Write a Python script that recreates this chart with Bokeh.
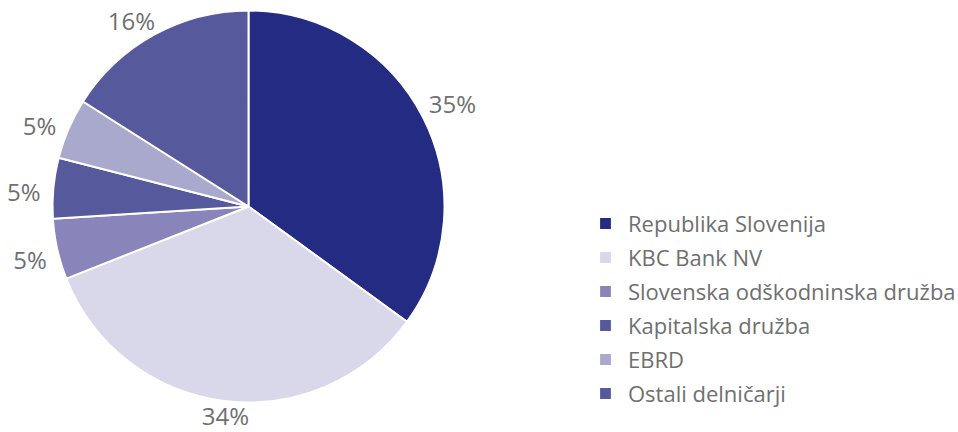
import math
from bokeh.plotting import figure
from bokeh.models import ColumnDataSource, Range1d, Legend, LegendItem
from bokeh.core.properties import value
from bokeh.embed import file_html
from bokeh.resources import INLINE

categories = ["Republika Slovenija", "KBC Bank NV", "Slovenska odškodninska družba",
              "Kapitalska družba", "EBRD", "Ostali delničarji"]
shares = [35, 34, 5, 5, 5, 16]
colors = ["#232C82", "#D9D7EA", "#8985BA", "#57599D", "#A9A8CD", "#57599D"]
labels = ["35%", "34%", "5%", "5%", "5%", "16%"]

R = 196
GAP = 12
FS = 24
ROT = math.radians(1.5)
Y0, Y1 = -226, 206
total = sum(shares)
starts, ends, lx, ly = [], [], [], []
cum = 0
for s, lab in zip(shares, labels):
    f0 = cum / total
    cum += s
    f1 = cum / total
    starts.append(math.pi / 2 - 2 * math.pi * f1)
    ends.append(math.pi / 2 - 2 * math.pi * f0)
    mid = math.pi / 2 - 2 * math.pi * (f0 + f1) / 2 + ROT
    w = FS * (0.58 * (len(lab) - 1) + 0.85)
    h = 16
    c, sn = math.cos(mid), math.sin(mid)
    x = (R + GAP) * c + w / 2 * c
    y = (R + GAP) * sn + h / 2 * sn
    y = max(min(y, Y1 - FS * 0.72), Y0 + FS * 0.72)
    lx.append(x)
    ly.append(y)

src = ColumnDataSource(dict(cat=categories, start=starts, end=ends, color=colors,
                            lx=lx, ly=ly, label=labels))

p = figure(width=958, height=432, output_backend="svg", toolbar_location=None,
           x_range=Range1d(-248, 710), y_range=Range1d(Y0, Y1),
           min_border=0, outline_line_color=None)
p.axis.visible = False
p.grid.visible = False
p.background_fill_color = "white"

r = p.wedge(x=0, y=0, radius=R, start_angle="start", end_angle="end",
            direction="anticlock", fill_color="color", line_color="white",
            line_width=2, source=src)

p.text(x="lx", y="ly", text="label", source=src, text_align="center",
       text_baseline="middle", text_font=value("Open Sans"),
       text_font_size=f"{FS}px", text_color="#6f6f6f")

items = [LegendItem(label=c, renderers=[r], index=i) for i, c in enumerate(categories)]
legend = Legend(items=items, location=(597, 24), orientation="vertical",
                glyph_width=16, glyph_height=16, label_height=29, spacing=4,
                label_standoff=15, padding=0, margin=0, border_line_color=None,
                background_fill_alpha=0, label_text_font="Open Sans",
                label_text_font_size="22px", label_text_color="#6f6f6f")
p.add_layout(legend, "center")

open("out.html", "w").write(file_html(p, INLINE))
